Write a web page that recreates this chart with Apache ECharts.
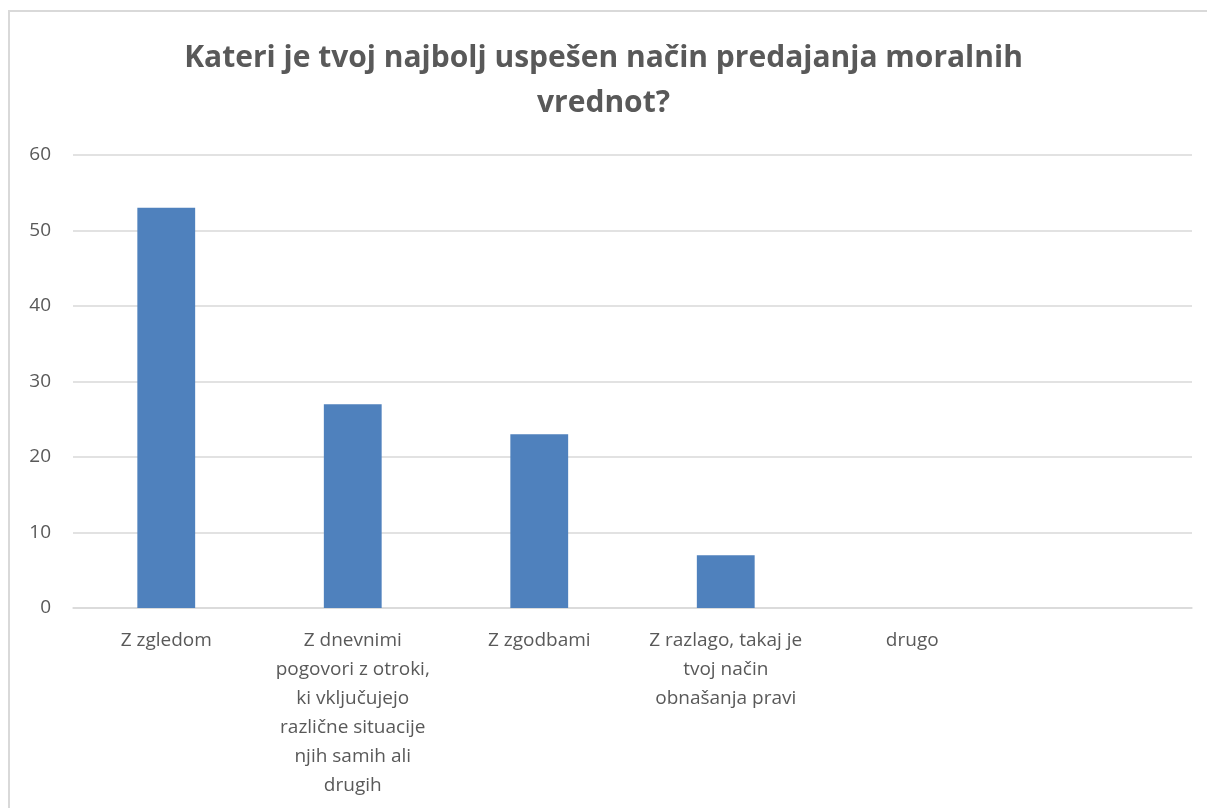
<!doctype html>
<html>
    <head>
        <meta charset="utf-8">
        <style>
            html, body { margin: 0; padding: 0; background: #fff; }
            #main { position: absolute; left: 0; top: 0; width: 1207px; height: 808px; }
            #frame { position: absolute; left: 8px; top: 10px; width: 1199px; height: 798px;
                     border-top: 2px solid #d9d9d9; border-left: 2px solid #d9d9d9; box-sizing: border-box; }
        </style>
    </head>
    <body>
        <div id="frame"></div>
        <div id="main"></div>
        <script src="https://cdn.jsdelivr.net/npm/echarts@6/dist/echarts.min.js"></script>
        <script>
            var titleText = 'Kateri je tvoj najbolj uspešen način predajanja moralnih\nvrednot?';
            var categories = [
                'Z zgledom',
                'Z dnevnimi\npogovori z otroki,\nki vključujejo\nrazlične situacije\nnjih samih ali\ndrugih',
                'Z zgodbami',
                'Z razlago, takaj je\ntvoj način\nobnašanja pravi',
                'drugo',
                ''
            ];
            var values = [53, 27, 23, 7, 0, null];

            var chart = echarts.init(document.getElementById('main'));
            var font = '"Open Sans", "Noto Sans", sans-serif';

            chart.setOption({
                animation: false,
                title: {
                    text: titleText,
                    left: 'center',
                    top: 31,
                    textStyle: {
                        fontFamily: font,
                        fontSize: 30,
                        fontWeight: 'bold',
                        color: '#595959',
                        lineHeight: 45
                    }
                },
                grid: {
                    left: 73,
                    right: 15,
                    top: 155,
                    bottom: 200
                },
                xAxis: {
                    type: 'category',
                    data: categories,
                    axisLine: { lineStyle: { color: '#d9d9d9', width: 1.5 } },
                    axisTick: { show: false },
                    axisLabel: {
                        interval: 0,
                        margin: 18,
                        fontFamily: font,
                        fontSize: 19,
                        lineHeight: 29,
                        color: '#595959'
                    }
                },
                yAxis: {
                    type: 'value',
                    min: 0,
                    max: 60,
                    interval: 10,
                    axisLine: { show: false },
                    axisTick: { show: false },
                    splitLine: { lineStyle: { color: '#d9d9d9', width: 1.5 } },
                    axisLabel: {
                        margin: 22,
                        fontFamily: font,
                        fontSize: 19,
                        color: '#595959'
                    }
                },
                series: [{
                    type: 'bar',
                    data: values,
                    barWidth: '31%',
                    itemStyle: {
                        color: '#4f81bd'
                    }
                }]
            });

            window.onresize = chart.resize;
        </script>
    </body>
</html>
